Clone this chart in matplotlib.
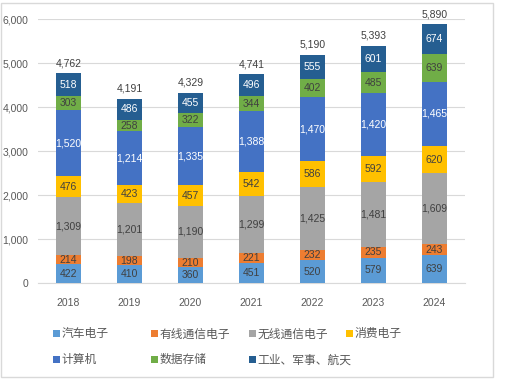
import matplotlib
matplotlib.use("Agg")
import matplotlib.pyplot as plt
from matplotlib.patches import Rectangle
import numpy as np

plt.rcParams['font.family'] = ['Noto Sans CJK SC', 'DejaVu Sans']

years = ["2018", "2019", "2020", "2021", "2022", "2023", "2024"]
series_names = ["汽车电子", "有线通信电子", "无线通信电子", "消费电子", "计算机", "数据存储", "工业、军事、航天"]
auto = [422, 410, 360, 451, 520, 579, 639]
wired = [214, 198, 210, 221, 232, 235, 243]
wireless = [1309, 1201, 1190, 1299, 1425, 1481, 1609]
consumer = [476, 423, 457, 542, 586, 592, 620]
computer = [1520, 1214, 1335, 1388, 1470, 1420, 1465]
storage = [303, 258, 322, 344, 402, 485, 639]
industrial = [518, 486, 455, 496, 555, 601, 674]
totals = [4762, 4191, 4329, 4741, 5190, 5393, 5890]

series = [auto, wired, wireless, consumer, computer, storage, industrial]
colors = ["#5B9BD5", "#ED7D31", "#A5A5A5", "#FFC000", "#4472C4", "#70AD47", "#255E91"]
label_colors = ["#404040", "#404040", "#404040", "#404040", "white", "#404040", "white"]
num_font = ['Liberation Sans', 'DejaVu Sans']

fig = plt.figure(figsize=(5.05, 3.82), dpi=100)
ax = fig.add_axes([38/505, 1 - 283/382, (465-38)/505, (283-19)/382])

x = np.arange(len(years))
bottom = np.zeros(len(years))
for vals, c, lc, name in zip(series, colors, label_colors, series_names):
    vals = np.array(vals)
    ax.bar(x, vals, 0.41, bottom=bottom, color=c, label=name, zorder=3)
    for xi, v, b in zip(x, vals, bottom):
        ax.text(xi, b + v / 2, f"{v:,}", ha="center", va="center", color=lc,
                fontsize=7.5, family=num_font, zorder=4)
    bottom = bottom + vals

for xi, t, b in zip(x, totals, bottom):
    ax.text(xi, b + 110, f"{t:,}", ha="center", va="bottom", color="#404040",
            fontsize=7.5, family=num_font)

ax.set_ylim(0, 6000)
ax.set_xlim(-0.5, len(years) - 0.5)
ax.set_yticks(np.arange(0, 6001, 1000))
ax.set_yticklabels([f"{v:,}" for v in range(0, 6001, 1000)])
ax.set_xticks(x)
ax.set_xticklabels(years)
ax.tick_params(axis="both", length=0, colors="#595959", labelsize=7.5)
ax.tick_params(axis="x", pad=11)
ax.tick_params(axis="y", pad=7)
for lbl in ax.get_xticklabels() + ax.get_yticklabels():
    lbl.set_family(num_font)
ax.grid(axis="y", color="#D9D9D9", linewidth=0.8, zorder=0)
for s in ["top", "right", "left"]:
    ax.spines[s].set_visible(False)
ax.spines["bottom"].set_color("#D9D9D9")

handles, labels = ax.get_legend_handles_labels()
columns = [[0, 4], [1, 5], [2, 6], [3]]
col_x = [44, 142, 240, 337]
for cx, idxs in zip(col_x, columns):
    fig.legend([handles[i] for i in idxs], [labels[i] for i in idxs], ncol=1,
               loc="upper left", bbox_to_anchor=(cx/505, 1 - 318/382),
               frameon=False, fontsize=8.5, handlelength=0.55, handleheight=0.55,
               handletextpad=0.1, labelspacing=1.1, labelcolor="#595959",
               borderpad=0.3)

fig.patches.append(Rectangle((1/505, 5/382), 492/505, 374/382, transform=fig.transFigure,
                             fill=False, edgecolor="#D9D9D9", linewidth=1))

fig.savefig("out.png", dpi=100)
